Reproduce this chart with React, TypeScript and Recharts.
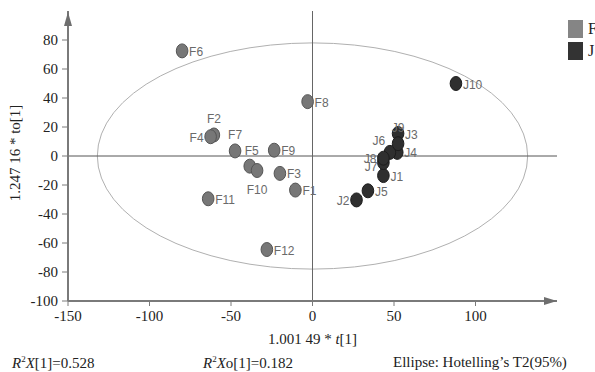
import React from 'react';
import { ScatterChart, Scatter, XAxis, YAxis, ReferenceLine, ReferenceArea, ReferenceDot } from 'recharts';

// ---- data ----
const fNames = ['F1', 'F2', 'F3', 'F4', 'F5', 'F6', 'F7', 'F8', 'F9', 'F10', 'F11', 'F12'];
const fX = [-10.5, -60.5, -20, -62.5, -38.5, -80, -47.5, -3, -23.5, -34, -64, -28];
const fY = [-23.5, 14.5, -12, 13.3, -7, 72.5, 3.5, 37.5, 4, -10, -29.5, -64.5];

const jNames = ['J1', 'J2', 'J3', 'J4', 'J5', 'J6', 'J7', 'J8', 'J9', 'J10'];
const jX = [43.5, 27, 52.5, 52, 34, 47.5, 43.5, 43.5, 52.5, 88];
const jY = [-13.5, -30.3, 15.5, 2.5, -24, 2.5, -4.5, -1.5, 8.5, 50];

const xTicks = [-150, -100, -50, 0, 50, 100];
const yTicks = [-100, -80, -60, -40, -20, 0, 20, 40, 60, 80];

// Hotelling T2 ellipse semi-axes (in score units)
const ellipseRx = 132;
const ellipseRy = 78;

const fData = fNames.map((name, i) => ({ name, x: fX[i], y: fY[i] }));
const jData = jNames.map((name, i) => ({ name, x: jX[i], y: jY[i] }));

// ---- styles ----
const labelPlacement: Record<string, string> = {
  F1: 'right', F2: 'top', F3: 'right', F4: 'left', F5: 'upper', F6: 'right', F7: 'top', F8: 'right',
  F9: 'right', F10: 'bottom', F11: 'right', F12: 'right',
  J1: 'right', J2: 'left', J3: 'right', J4: 'right', J5: 'right', J6: 'topleft', J7: 'leftlow',
  J8: 'left', J9: 'top', J10: 'right',
};
const placements: Record<string, { dx: number; dy: number; anchor: string }> = {
  right: { dx: 7, dy: 1, anchor: 'start' },
  left: { dx: -7, dy: 1, anchor: 'end' },
  top: { dx: 0, dy: -16, anchor: 'middle' },
  bottom: { dx: 0, dy: 19, anchor: 'middle' },
  upper: { dx: -5, dy: -15, anchor: 'start' },
  topleft: { dx: -11, dy: -11, anchor: 'middle' },
  leftlow: { dx: -6, dy: 4, anchor: 'end' },
};

const serif = '"Liberation Serif", "DejaVu Serif", serif';
const labelFont = '"Liberation Sans Narrow", "Liberation Sans", sans-serif';

const makeShape = (fill: string, stroke: string) => (props: any) => {
  const { cx, cy, payload } = props;
  const p = placements[labelPlacement[payload.name]] || placements.right;
  return (
    <g>
      <ellipse cx={cx} cy={cy} rx={5.8} ry={7} fill={fill} stroke={stroke} strokeWidth={1} />
      <text
        x={cx + p.dx}
        y={cy + p.dy}
        textAnchor={p.anchor as any}
        dominantBaseline="central"
        fontSize={12}
        fontFamily={labelFont}
        fill="#6a6a6a"
      >
        {payload.name}
      </text>
    </g>
  );
};

const EllipseShape = (props: any) => {
  const { x, y, width, height } = props;
  return (
    <ellipse
      cx={x + width / 2}
      cy={y + height / 2}
      rx={Math.abs(width) / 2}
      ry={Math.abs(height) / 2}
      fill="none"
      stroke="#b0b0b0"
      strokeWidth={1}
    />
  );
};

const ArrowUp = (props: any) => {
  const { cx, cy } = props;
  return <polygon points={`${cx},${cy + 1} ${cx - 4},${cy + 15} ${cx + 4},${cy + 15}`} fill="#6e6e6e" />;
};
const ArrowRight = (props: any) => {
  const { cx, cy } = props;
  return <polygon points={`${cx},${cy} ${cx - 13},${cy - 4} ${cx - 13},${cy + 4}`} fill="#6e6e6e" />;
};

const XLabel = (props: any) => {
  const { viewBox } = props;
  return (
    <text x={viewBox.x + viewBox.width / 2} y={viewBox.y + 38} textAnchor="middle" dominantBaseline="central" fontSize={15} fontFamily={serif} fill="#222">
      1.001 49 * <tspan fontStyle="italic">t</tspan>[1]
    </text>
  );
};
const YLabel = (props: any) => {
  const { viewBox } = props;
  const cy = viewBox.y + viewBox.height / 2 - 3;
  return (
    <text x={15} y={cy} transform={`rotate(-90 15 ${cy})`} textAnchor="middle" dominantBaseline="central" fontSize={15} fontFamily={serif} fill="#222">
      1.247 16 * to[1]
    </text>
  );
};

export default function App() {
  return (
    <div style={{ position: 'absolute', left: 0, top: 0, width: 595, height: 372, overflow: 'hidden', background: '#fff' }}>
      <ScatterChart width={595} height={372} margin={{ top: 11, right: 38, bottom: 41, left: 0 }}>
        <XAxis
          type="number"
          dataKey="x"
          domain={[-150, 150]}
          ticks={xTicks}
          height={30}
          tickSize={5}
          tickMargin={4}
          axisLine={{ stroke: '#7a7a7a', strokeWidth: 2 }}
          tickLine={{ stroke: '#7a7a7a' }}
          tick={{ fill: '#222', fontSize: 15, fontFamily: serif }}
          label={<XLabel />}
          allowDataOverflow
        />
        <YAxis
          type="number"
          dataKey="y"
          domain={[-100, 100]}
          ticks={yTicks}
          width={68}
          tickSize={6}
          tickMargin={4}
          axisLine={{ stroke: '#7a7a7a', strokeWidth: 2 }}
          tickLine={{ stroke: '#7a7a7a' }}
          tick={{ fill: '#222', fontSize: 15, fontFamily: serif }}
          label={<YLabel />}
          allowDataOverflow
        />
        <ReferenceArea x1={-ellipseRx} x2={ellipseRx} y1={-ellipseRy} y2={ellipseRy} shape={<EllipseShape />} ifOverflow="visible" />
        <ReferenceLine y={0} stroke="#555" strokeWidth={1} />
        <ReferenceLine x={0} stroke="#666" strokeWidth={1} />
        <ReferenceDot x={-150} y={100} shape={<ArrowUp />} ifOverflow="visible" />
        <ReferenceDot x={150} y={-100} shape={<ArrowRight />} ifOverflow="visible" />
        <Scatter name="F" data={fData} shape={makeShape('#777777', '#555555')} isAnimationActive={false} />
        <Scatter name="J" data={jData} shape={makeShape('#2f2f2f', '#1c1c1c')} isAnimationActive={false} />
      </ScatterChart>

      {/* legend */}
      <div style={{ position: 'absolute', left: 568, top: 19, fontFamily: serif, fontSize: 16, color: '#222' }}>
        <div style={{ display: 'flex', alignItems: 'center', height: 19, marginBottom: 3 }}>
          <span style={{ display: 'inline-block', width: 15, height: 18, background: '#858585', marginRight: 5 }} />
          <span>F</span>
        </div>
        <div style={{ display: 'flex', alignItems: 'center', height: 19 }}>
          <span style={{ display: 'inline-block', width: 15, height: 18, background: '#333333', marginRight: 5 }} />
          <span>J</span>
        </div>
      </div>

      {/* model statistics */}
      <div style={{ position: 'absolute', left: 12, top: 354, fontFamily: serif, fontSize: 15, color: '#222', whiteSpace: 'nowrap' }}>
        <i>R</i><sup style={{ fontSize: 9 }}>2</sup><i>X</i>[1]=0.528
      </div>
      <div style={{ position: 'absolute', left: 203, top: 354, fontFamily: serif, fontSize: 15, color: '#222', whiteSpace: 'nowrap' }}>
        <i>R</i><sup style={{ fontSize: 9 }}>2</sup><i>X</i>o[1]=0.182
      </div>
      <div style={{ position: 'absolute', left: 393, top: 354, fontFamily: serif, fontSize: 15, color: '#222', whiteSpace: 'nowrap' }}>
        Ellipse: Hotelling’s T2(95%)
      </div>
    </div>
  );
}
